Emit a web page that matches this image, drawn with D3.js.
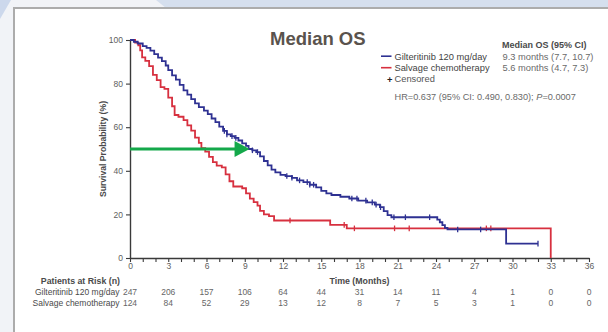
<!DOCTYPE html>
<html>
<head>
<meta charset="utf-8">
<script src="https://cdn.jsdelivr.net/npm/d3@7"></script>
<style>
  html, body { margin: 0; padding: 0; background: #ffffff; }
  svg { display: block; }
  text { font-family: "Liberation Sans", Arial, sans-serif; }
</style>
</head>
<body>
<svg id="chart" width="608" height="332"></svg>
<script>
// Kaplan-Meier overall survival, gilteritinib vs salvage chemotherapy
const giltTime = [0, 0.3, 0.6, 1.0, 1.3, 1.6, 1.9, 2.2, 2.5, 2.8, 3.0, 3.3, 3.6, 3.9, 4.2, 4.5, 4.8, 5.1, 5.4, 5.8,
  6.1, 6.4, 6.7, 7.0, 7.3, 7.6, 7.9, 8.2, 8.5, 8.8, 9.1, 9.3, 9.6, 9.9, 10.2, 10.5, 10.8, 11.1, 11.4, 11.8,
  12.2, 12.7, 13.1, 13.6, 14.1, 14.6, 15.0, 15.4, 15.8, 16.5, 17.2, 17.9, 18.6, 19.2, 19.6, 19.9, 20.2, 20.5,
  24.1, 24.3, 24.5, 24.7, 24.9, 29.5, 32.0];
const giltSurv = [100, 99.2, 98.4, 97.2, 96.4, 95.1, 93.5, 91.9, 90.3, 88.3, 86.2, 83.8, 81.8, 79.4, 76.9, 74.9, 72.9, 70.9, 69.2, 67.6,
  66.0, 64.0, 62.3, 60.3, 58.3, 56.7, 55.9, 55.1, 53.9, 52.6, 51.4, 50.0, 49.4, 48.6, 46.6, 44.5, 42.5, 40.5, 39.3, 38.1,
  37.6, 36.8, 35.6, 34.8, 33.6, 32.4, 30.8, 29.6, 28.9, 28.1, 27.3, 26.3, 25.5, 24.5, 23.3, 21.5, 19.7, 18.7,
  17.6, 16.4, 15.1, 13.8, 13.1, 6.6, 6.6];
const giltCensor = [7.4, 7.6, 8.0, 8.3, 9.6, 10.0, 12.3, 12.7, 13.3, 13.9, 14.1, 14.4, 17.4, 17.8, 18.5, 19.0, 19.3, 19.65,
  20.7, 21.6, 23.5, 25.7, 27.5, 32.0];

const chemoTime = [0, 0.4, 0.65, 0.8, 0.95, 1.2, 1.5, 1.8, 2.1, 2.4, 2.7, 3.0, 3.3, 3.5, 3.8, 4.2, 4.5, 4.8, 5.1, 5.4,
  5.6, 5.9, 6.2, 6.5, 6.8, 7.2, 7.5, 7.8, 8.1, 8.8, 9.1, 9.4, 9.7, 10.0, 10.2, 10.5, 10.9, 11.3, 15.7, 17.0, 33.0];
const chemoSurv = [100, 98.8, 97.6, 95.2, 92.0, 90.4, 88.0, 84.0, 81.6, 78.4, 77.6, 73.6, 69.6, 65.6, 64.8, 63.2, 60.8, 58.4, 55.2, 52.8,
  50.4, 48.8, 46.4, 44.0, 42.4, 41.6, 38.4, 35.2, 32.8, 32.0, 29.6, 27.2, 25.6, 24.0, 21.6, 20.0, 19.2, 17.2, 15.2, 13.6, 0];
const chemoCensor = [12.55, 16.8, 17.6, 20.75, 21.9, 27.95, 28.3];

// Patients at risk table
const riskTimes = [0, 3, 6, 9, 12, 15, 18, 21, 24, 27, 30, 33, 36];
const giltRisk = [247, 206, 157, 106, 64, 44, 31, 14, 11, 4, 1, 0, 0];
const chemoRisk = [124, 84, 52, 29, 13, 12, 8, 7, 5, 3, 1, 0, 0];

const armNames = ["Gilteritinib 120 mg/day", "Salvage chemotherapy"];
const medianText = ["9.3 months (7.7, 10.7)", "5.6 months (4.7, 7.3)"];
const giltMedian = 9.3;
const yTicks = [0, 20, 40, 60, 80, 100];

const BLUE = "#2e3192", RED = "#d7303f", GREEN = "#14a84a";

const svg = d3.select("#chart");

// slide backdrop and card
svg.append("rect").attr("x", 0).attr("y", 0).attr("width", 608).attr("height", 332).attr("fill", "#f1f3f7");
svg.append("polygon").attr("points", "156,0 608,0 608,8 166,8").attr("fill", "#d5dfee");
svg.append("polygon").attr("points", "0,0 11,0 0,19").attr("fill", "#ccd8ec");
svg.append("rect").attr("x", 14).attr("y", 8).attr("width", 600).attr("height", 330)
  .attr("fill", "#ffffff").attr("stroke", "#acacac").attr("stroke-width", 2);

const x = d3.scaleLinear().domain([0, 36]).range([130, 589]);
const y = d3.scaleLinear().domain([0, 100]).range([258, 40]);

// axes
const xAxis = d3.axisBottom(x).tickValues(d3.range(0, 37, 1))
  .tickFormat(d => d % 3 === 0 ? d : "").tickSize(4).tickSizeOuter(0);
const gx = svg.append("g").attr("transform", `translate(0,${y(0)})`).call(xAxis);
const yAxis = d3.axisLeft(y).tickValues(yTicks).tickSize(4).tickSizeOuter(0);
const gy = svg.append("g").attr("transform", `translate(${x(0)},0)`).call(yAxis);
[gx, gy].forEach(g => {
  g.select(".domain").attr("stroke", "#3a3a3a").attr("stroke-width", 1.4);
  g.selectAll(".tick line").attr("stroke", "#3a3a3a").attr("stroke-width", 1.1);
  g.selectAll(".tick text").attr("fill", "#5e5e5e").attr("font-size", 8.5)
    .attr("font-family", "Liberation Sans, Arial, sans-serif");
});
gx.selectAll(".tick text").attr("dy", "0.5em");

svg.append("text").attr("transform", `translate(105.5,${y(50)}) rotate(-90)`)
  .attr("text-anchor", "middle").attr("font-size", 8.6).attr("font-weight", "bold").attr("fill", "#4a4a4a")
  .text("Survival Probability (%)");
svg.append("text").attr("x", x(18)).attr("y", 283.5).attr("text-anchor", "middle")
  .attr("font-size", 8.8).attr("font-weight", "bold").attr("fill", "#4a4a4a").text("Time (Months)");

// survival curves
const line = d3.line().curve(d3.curveStepAfter).x(d => x(d[0])).y(d => y(d[1]));
const stepAt = (times, surv, t) => surv[d3.bisectRight(times, t) - 1];

function drawArm(times, surv, censors, color) {
  const pts = times.map((t, i) => [t, surv[i]]);
  svg.append("path").datum(pts).attr("d", line).attr("fill", "none")
    .attr("stroke", color).attr("stroke-width", 1.8).attr("stroke-linejoin", "miter");
  svg.append("g").selectAll("line").data(censors).join("line")
    .attr("x1", d => x(d)).attr("x2", d => x(d))
    .attr("y1", d => y(stepAt(times, surv, d)) - 2.8)
    .attr("y2", d => y(stepAt(times, surv, d)) + 2.8)
    .attr("stroke", color).attr("stroke-width", 1.3);
}
drawArm(chemoTime, chemoSurv, chemoCensor, RED);
drawArm(giltTime, giltSurv, giltCensor, BLUE);

// median arrow
const tip = x(giltMedian) + 1;
svg.append("line").attr("x1", x(0)).attr("x2", tip - 12).attr("y1", y(50)).attr("y2", y(50))
  .attr("stroke", GREEN).attr("stroke-width", 3);
svg.append("polygon")
  .attr("points", `${tip},${y(50)} ${tip - 15},${y(50) - 8} ${tip - 15},${y(50) + 8}`)
  .attr("fill", GREEN);

// title
svg.append("text").attr("x", 270).attr("y", 44.5).attr("font-family", "Open Sans, sans-serif")
  .attr("font-size", 18.5).attr("font-weight", "bold").attr("fill", "#5a534d").text("Median OS");

// legend
const lg = svg.append("g").attr("font-size", 9.3);
lg.append("text").attr("x", 502).attr("y", 48).attr("font-weight", "bold").attr("fill", "#4a4a4a")
  .attr("font-size", 9).text("Median OS (95% CI)");
[BLUE, RED].forEach((c, i) => {
  const by = [59.5, 71][i];
  lg.append("line").attr("x1", 381).attr("x2", 391.5).attr("y1", by - 3.3).attr("y2", by - 3.3)
    .attr("stroke", c).attr("stroke-width", 1.6);
  lg.append("text").attr("x", 394.5).attr("y", by).attr("fill", "#3f3f3f").text(armNames[i]);
  lg.append("text").attr("x", 502.5).attr("y", by).attr("fill", "#6a6a6a").text(medianText[i]);
});
lg.append("text").attr("x", 387).attr("y", 82.5).attr("fill", "#222").attr("font-weight", "bold").text("+");
lg.append("text").attr("x", 394.5).attr("y", 82).attr("fill", "#555").text("Censored");
const hr = lg.append("text").attr("x", 394.5).attr("y", 100).attr("fill", "#6a6a6a").attr("font-size", 9.2);
hr.append("tspan").text("HR=0.637 (95% CI: 0.490, 0.830); ");
hr.append("tspan").attr("font-style", "italic").text("P");
hr.append("tspan").text("=0.0007");

// patients at risk table
const rt = svg.append("g").attr("font-size", 8.5);
rt.append("text").attr("x", 120).attr("y", 283.5).attr("text-anchor", "end").attr("font-weight", "bold")
  .attr("font-size", 8.8).attr("fill", "#4a4a4a").text("Patients at Risk (n)");
[giltRisk, chemoRisk].forEach((vals, i) => {
  const by = [294.5, 305.5][i];
  rt.append("text").attr("x", 119.5).attr("y", by).attr("text-anchor", "end").attr("fill", "#4a4a4a")
    .text(armNames[i]);
  rt.append("g").selectAll("text").data(vals).join("text")
    .attr("x", (d, j) => x(riskTimes[j])).attr("y", by).attr("text-anchor", "middle")
    .attr("fill", "#666").text(d => d);
});
</script>
</body>
</html>
